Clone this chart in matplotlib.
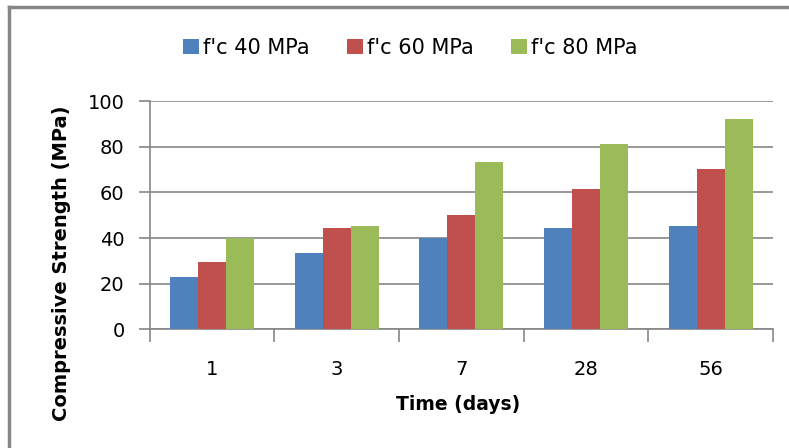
import numpy as np
import matplotlib
matplotlib.use("Agg")
import matplotlib.pyplot as plt
from matplotlib.lines import Line2D

# data
days = ["1", "3", "7", "28", "56"]
fc40 = [23, 33.5, 40, 44.5, 45.5]
fc60 = [29.5, 44.5, 50, 61.5, 70.3]
fc80 = [40, 45.5, 73.5, 81.3, 92.2]
series_names = ["f'c 40 MPa", "f'c 60 MPa", "f'c 80 MPa"]
colors = ["#4F81BD", "#C0504D", "#9BBB59"]
yticks = [0, 20, 40, 60, 80, 100]

GRAY = "#868686"
plt.rcParams["font.family"] = ["DejaVu Sans"]

fig = plt.figure(figsize=(7.89, 4.48), dpi=100)
ax = fig.add_axes([0.1895, 0.265, 0.7905, 0.509])

x = np.arange(len(days))
width = 0.224
for i, (vals, name, col) in enumerate(zip([fc40, fc60, fc80], series_names, colors)):
    ax.bar(x + (i - 1) * width, vals, width, color=col, label=name, zorder=3)

ax.set_xlim(-0.5, len(days) - 0.5)
ax.set_ylim(0, 100)
ax.set_yticks(yticks)
ax.set_yticklabels([str(v) for v in yticks], fontsize=14)
ax.yaxis.grid(True, color=GRAY, linewidth=1.2, zorder=0)

# category boundaries as ticks, labels at centres
ax.set_xticks(np.arange(-0.5, len(days), 1.0))
ax.set_xticklabels([])
ax.set_xticks(x, minor=True)
ax.set_xticklabels(days, minor=True, fontsize=14)
ax.tick_params(axis="x", which="major", length=9, width=1.2, color=GRAY, direction="out")
ax.tick_params(axis="x", which="minor", length=0, pad=22)
ax.tick_params(axis="y", length=8, width=1.2, color=GRAY, direction="out", pad=10)

for side in ["top", "right"]:
    ax.spines[side].set_visible(False)
for side in ["left", "bottom"]:
    ax.spines[side].set_color(GRAY)
    ax.spines[side].set_linewidth(1.2)

fig.text(458 / 789, 1 - 405 / 448, "Time (days)", ha="center", va="center",
         fontsize=13.5, fontweight="bold")
fig.text(62 / 789, 1 - 263 / 448, "Compressive Strength (MPa)", ha="center",
         va="center", rotation=90, fontsize=14, fontweight="bold")

fig.legend(loc="center", bbox_to_anchor=(0.52, 1 - 48 / 448), ncol=3, frameon=False,
           fontsize=15, handlelength=0.75, handleheight=0.75, handletextpad=0.2,
           columnspacing=1.8)

# outer chart frame (left and top visible)
fig.add_artist(Line2D([9 / 789, 9 / 789], [0, 1 - 7 / 448], color=GRAY, linewidth=2.5,
                      transform=fig.transFigure))
fig.add_artist(Line2D([9 / 789, 1], [1 - 7 / 448, 1 - 7 / 448], color=GRAY, linewidth=2.5,
                      transform=fig.transFigure))

fig.savefig("out.png", dpi=100)
